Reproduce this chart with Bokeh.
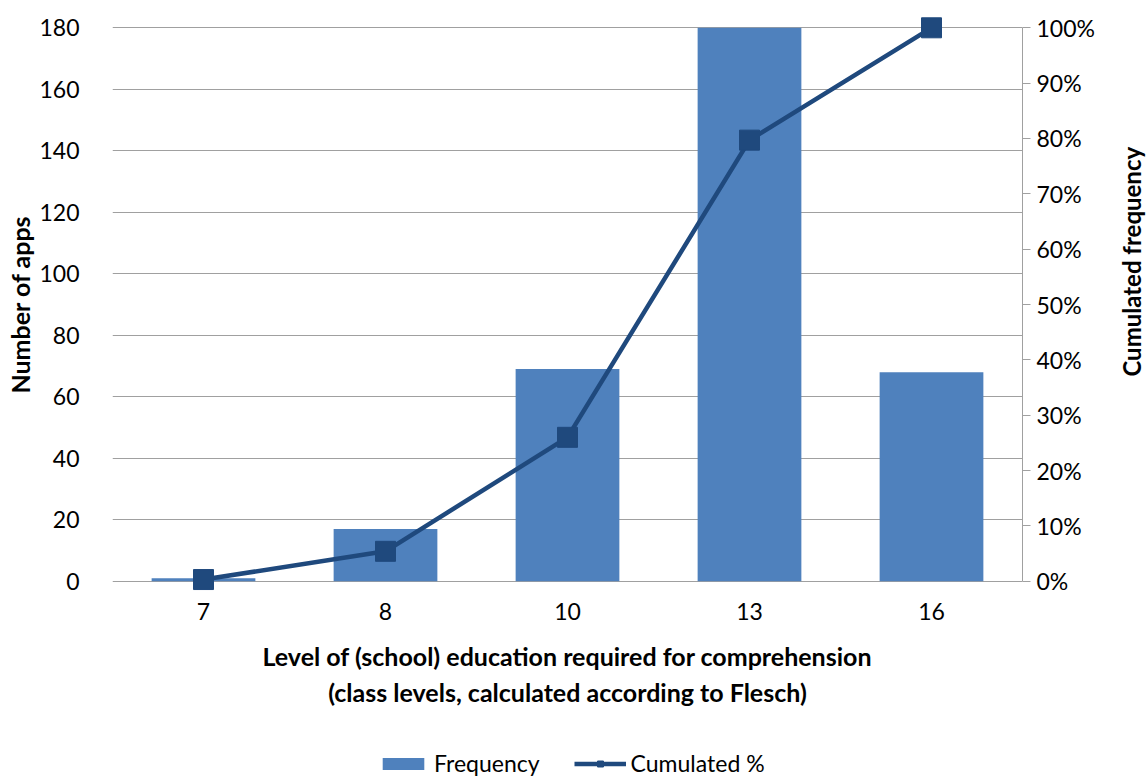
from math import pi
from bokeh.plotting import figure
from bokeh.layouts import row, column
from bokeh.models import (FactorRange, Range1d, LinearAxis, FixedTicker,
                          Legend, LegendItem)
from bokeh.core.properties import value
from bokeh.embed import file_html
from bokeh.resources import INLINE

# ---- data ----
levels = ["7", "8", "10", "13", "16"]
frequency = [1, 17, 69, 180, 68]
cumulated_pct = [0.3, 5.4, 26.0, 79.7, 100.0]
left_ticks = [0, 20, 40, 60, 80, 100, 120, 140, 160, 180]
right_ticks = [0, 10, 20, 30, 40, 50, 60, 70, 80, 90, 100]
right_tick_labels = [f"{t}%" for t in right_ticks]

FONT = "Lato"
BAR = "#4F81BD"
LINE = "#1F497D"
GRID = "#A0A0A0"
TICK_SIZE = "23px"
TITLE_SIZE = "25px"

Y_MAX = 180
PAD = 4  # extra room so edge markers are not clipped

MAIN_W, MAIN_H = 1100, 730
SIDE_W = 1148 - MAIN_W
LEG_H = 777 - MAIN_H

p = figure(width=MAIN_W, height=MAIN_H,
           x_range=FactorRange(*levels),
           y_range=Range1d(-PAD, Y_MAX + PAD),
           output_backend="svg", toolbar_location=None,
           min_border_left=112, min_border_right=MAIN_W - 1022,
           min_border_top=15, min_border_bottom=MAIN_H - 593)
p.outline_line_color = None

p.extra_y_ranges = {"pct": Range1d(-PAD / Y_MAX * 100, (Y_MAX + PAD) / Y_MAX * 100)}

# grid
p.xgrid.grid_line_color = None
p.ygrid.ticker = FixedTicker(ticks=left_ticks)
p.ygrid.grid_line_color = GRID
p.ygrid.grid_line_width = 1

# left axis
ya = p.yaxis[0]
ya.ticker = FixedTicker(ticks=left_ticks)
ya.axis_line_color = None
ya.major_tick_line_color = None
ya.minor_tick_line_color = None
ya.major_label_standoff = 27
ya.major_label_text_font = FONT
ya.major_label_text_font_size = TICK_SIZE
ya.major_label_text_color = "black"
ya.axis_label = "Number of apps"
ya.axis_label_text_font = FONT
ya.axis_label_text_font_size = TITLE_SIZE
ya.axis_label_text_font_style = "bold"
ya.axis_label_text_color = "black"
ya.axis_label_standoff = 1

# right axis
ra = LinearAxis(y_range_name="pct", ticker=FixedTicker(ticks=right_ticks),
                major_label_overrides={t: l for t, l in zip(right_ticks, right_tick_labels)},
                bounds=(0, 100))
ra.axis_line_color = GRID
ra.major_tick_line_color = GRID
ra.major_tick_in = 0
ra.major_tick_out = 8
ra.minor_tick_line_color = None
ra.major_label_standoff = 6
ra.major_label_text_font = FONT
ra.major_label_text_font_size = TICK_SIZE
ra.major_label_text_color = "black"
p.add_layout(ra, "right")

# bottom axis
xa = p.xaxis[0]
xa.axis_line_color = None
xa.major_tick_line_color = None
xa.minor_tick_line_color = None
xa.major_label_standoff = 3
xa.major_label_text_font = FONT
xa.major_label_text_font_size = TICK_SIZE
xa.major_label_text_color = "black"
xa.axis_label = ("Level of (school) education required for comprehension\n"
                 "(class levels, calculated according to Flesch)")
xa.axis_label_text_font = FONT
xa.axis_label_text_font_size = TITLE_SIZE
xa.axis_label_text_font_style = "bold"
xa.axis_label_text_color = "black"
xa.axis_label_standoff = 18

# bars
p.vbar(x=levels, top=frequency, width=0.57, fill_color=BAR, line_color=None)

# cumulative line
p.line(x=levels, y=cumulated_pct, y_range_name="pct", line_color=LINE, line_width=4.5)
p.scatter(x=levels, y=cumulated_pct, y_range_name="pct", marker="square",
          size=20, fill_color=LINE, line_color=LINE)

# ---- right-hand title strip (text reads bottom-to-top) ----
side = figure(width=SIDE_W, height=MAIN_H, x_range=Range1d(0, SIDE_W),
              y_range=Range1d(0, MAIN_H), output_backend="svg",
              toolbar_location=None, x_axis_location=None, y_axis_location=None,
              min_border=0)
side.outline_line_color = None
side.grid.grid_line_color = None
side.text(x=[31], y=[MAIN_H - 311], text=["Cumulated frequency"], angle=pi / 2,
          text_align="center", text_baseline="middle", text_font=value(FONT),
          text_font_size=value("24px"), text_font_style="bold", text_color="black")

# ---- legend strip (proxy renderers kept outside the visible range) ----
leg = figure(width=1148, height=LEG_H, x_range=Range1d(0, 1), y_range=Range1d(0, 1),
             output_backend="svg", toolbar_location=None,
             x_axis_location=None, y_axis_location=None, min_border=0)
leg.outline_line_color = None
leg.grid.grid_line_color = None
lb = leg.vbar(x=[-5], top=[-5], bottom=-6, width=0.5, fill_color=BAR, line_color=None)
ll = leg.line(x=[-5, -4], y=[-5, -5], line_color=LINE, line_width=4.5)
lm = leg.scatter(x=[-5], y=[-5], marker="square", size=17, fill_color=LINE, line_color=LINE)
legend = Legend(items=[LegendItem(label="Frequency", renderers=[lb]),
                       LegendItem(label="Cumulated %", renderers=[ll, lm])],
                location=(377, 0), orientation="horizontal",
                glyph_width=52, glyph_height=15, label_standoff=5, spacing=34,
                padding=0, margin=0,
                border_line_color=None, background_fill_alpha=0,
                label_text_font=FONT, label_text_font_size=TICK_SIZE,
                label_text_color="black", label_height=15)
leg.add_layout(legend)

layout = column(row(p, side, spacing=0), leg, spacing=0)

open("out.html", "w").write(file_html(layout, INLINE))
